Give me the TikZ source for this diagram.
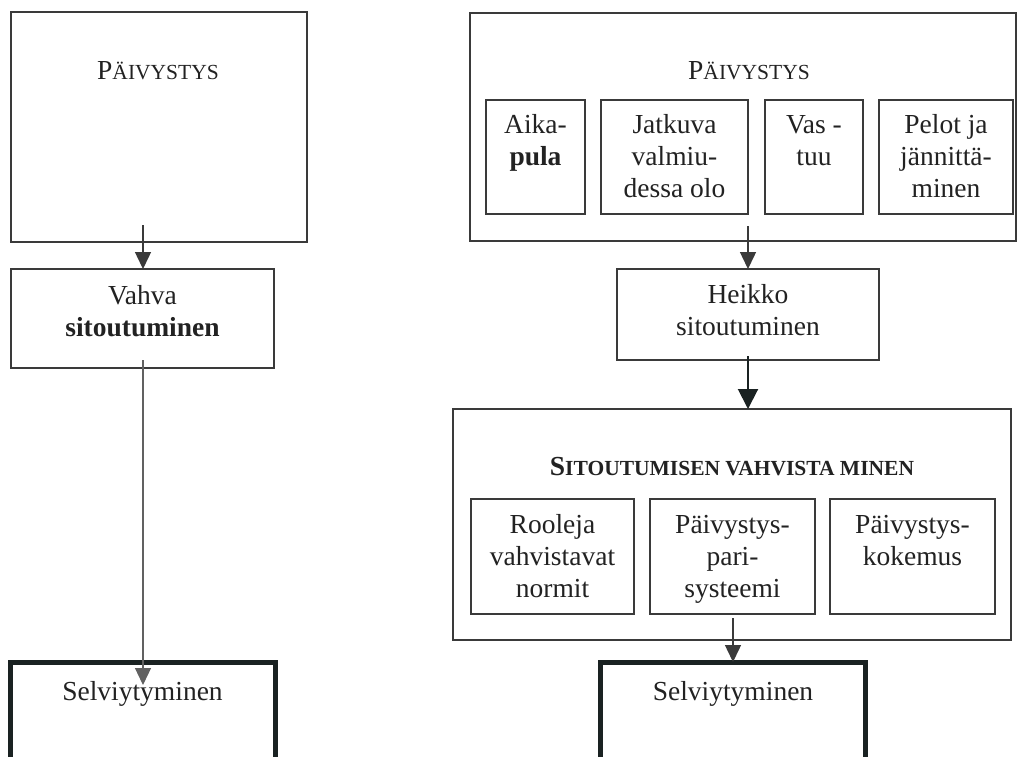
\documentclass[tikz,border=0pt]{standalone}
\usepackage{fontspec}
\setmainfont{Liberation Serif}
\usetikzlibrary{arrows.meta}
\definecolor{ln}{HTML}{3A3A3A}
\definecolor{ink}{HTML}{222222}
\definecolor{heavy}{HTML}{1A2222}
\newcommand\ml[1]{\begin{tabular}[t]{@{}c@{}}#1\end{tabular}}
\newcommand\fsc[2]{#1{\fontsize{21.5}{32}\selectfont #2}}
\begin{document}
\begin{tikzpicture}[x=1pt,y=-1pt,
  font=\fontsize{27.5}{32}\selectfont,
  box/.style={draw=ln, line width=1.4pt, inner sep=0pt, outer sep=0pt, anchor=north west},
  thickbox/.style={draw=heavy, line width=5pt, inner sep=0pt, outer sep=0pt, anchor=north west},
  txt/.style={inner sep=0pt, outer sep=0pt, anchor=base, text=ink},
  arr/.style={draw=ln, line width=1.4pt, -{Triangle[width=16pt,length=17pt]}},
  arrthin/.style={draw=ln!80, line width=1.2pt, -{Triangle[width=16pt,length=17pt]}},
  arrheavy/.style={draw=heavy, line width=2pt, -{Triangle[width=20pt,length=20pt]}}]
\useasboundingbox (0,0) rectangle (1017,756);
\clip (0,0) rectangle (1017,756);
\fill[white] (0,0) rectangle (1017,756);

% ---------- left column ----------
\node[box, minimum width=296pt, minimum height=230pt] (p1) at (11,12) {};
\node[txt] (p1t) at (158,79) {\fsc{P}{ÄIVYSTYS}};

\node[box, minimum width=263pt, minimum height=99pt] (vahva) at (11,269) {};
\node[txt] (vahvat) at (142.5,304) {\ml{Vahva\\\textbf{sitoutuminen}}};

\node[thickbox, minimum width=265pt, minimum height=160pt] (selvL) at (10,662) {};
\node[txt] (selvLt) at (142.5,700) {Selviytyminen};

\coordinate (p1o) at (143,225);
\coordinate (vo) at (143,360);
\coordinate (selvLin) at (143,685);
\draw[arr] (p1o) -- (p1o |- vahva.north);
\draw[arrthin] (vo) -- (selvLin);

% ---------- right column ----------
\node[box, minimum width=546pt, minimum height=228pt] (p2) at (470,13) {};
\node[txt] (p2t) at (749,79) {\fsc{P}{ÄIVYSTYS}};

\node[box, minimum width=99pt, minimum height=114pt] (aika) at (486,100) {};
\node[txt] (aikat) at (aika.north |- 0,133) {\ml{Aika-\\\textbf{pula}}};
\node[box, minimum width=147pt, minimum height=114pt] (jatk) at (601,100) {};
\node[txt] (jatkt) at (jatk.north |- 0,133) {\ml{Jatkuva\\valmiu-\\dessa olo}};
\node[box, minimum width=98pt, minimum height=114pt] (vast) at (765,100) {};
\node[txt] (vastt) at (vast.north |- 0,133) {\ml{Vas -\\tuu}};
\node[box, minimum width=134pt, minimum height=114pt] (pelot) at (879,100) {};
\node[txt] (pelott) at (pelot.north |- 0,133) {\ml{Pelot ja\\jännittä-\\minen}};

\node[box, minimum width=262pt, minimum height=91pt] (heikko) at (617,269) {};
\node[txt] (heikkot) at (heikko.north |- 0,303) {\ml{Heikko\\sitoutuminen}};

\node[box, minimum width=558pt, minimum height=231pt] (vahv) at (453,409) {};
\node[txt] (vahvt) at (732,475) {\textbf{\fsc{S}{ITOUTUMISEN VAHVISTA MINEN}}};

\node[box, minimum width=163pt, minimum height=115pt] (rool) at (471,499) {};
\node[txt] (roolt) at (rool.north |- 0,533) {\ml{Rooleja\\vahvistavat\\normit}};
\node[box, minimum width=165pt, minimum height=115pt] (pari) at (650,499) {};
\node[txt] (parit) at (pari.north |- 0,533) {\ml{Päivystys-\\pari-\\systeemi}};
\node[box, minimum width=165pt, minimum height=115pt] (koke) at (830,499) {};
\node[txt] (koket) at (koke.north |- 0,533) {\ml{Päivystys-\\kokemus}};

\node[thickbox, minimum width=265pt, minimum height=160pt] (selvR) at (600,662) {};
\node[txt] (selvRt) at (733,700) {Selviytyminen};

\coordinate (p2o) at (748,226);
\coordinate (heo) at (748,356);
\coordinate (pao) at (733,618);
\draw[arr] (p2o) -- (p2o |- heikko.north);
\draw[arrheavy] (heo) -- (heo |- vahv.north);
\draw[arr] (pao) -- (pao |- selvR.north);
\end{tikzpicture}
\end{document}
